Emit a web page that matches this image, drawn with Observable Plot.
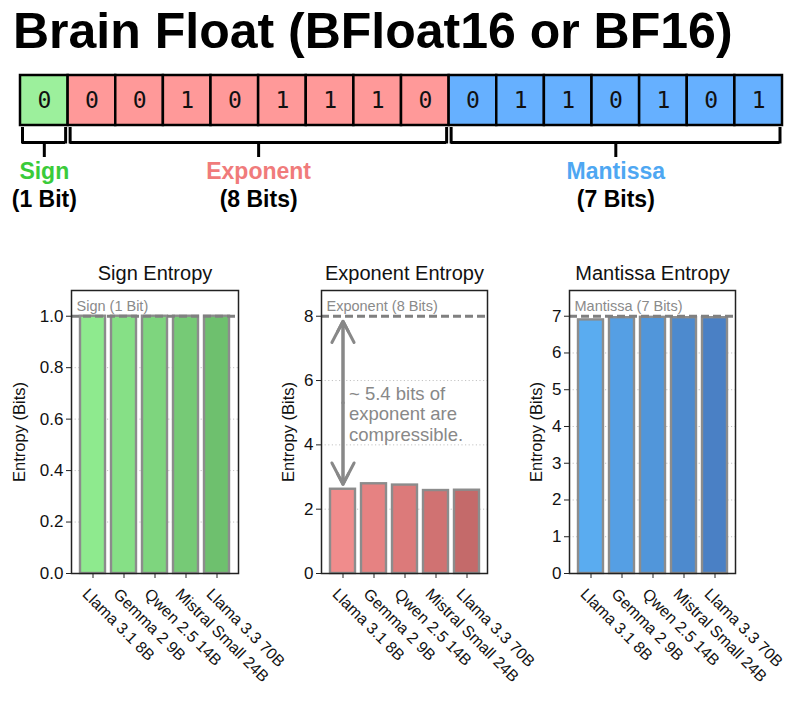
<!DOCTYPE html>
<html><head><meta charset="utf-8">
<script src="https://cdn.jsdelivr.net/npm/d3@7"></script>
<script src="https://cdn.jsdelivr.net/npm/@observablehq/plot@0.6"></script>
<style>
body{margin:0;background:#fff;}
#root{position:relative;width:800px;height:707px;overflow:hidden;font-family:"Liberation Sans",Arial,Helvetica,sans-serif;background:#fff;}
#title{position:absolute;left:13px;top:6px;font-size:50px;font-weight:bold;line-height:50px;white-space:nowrap;color:#000;}
.pane{position:absolute;}
.pane svg{overflow:visible;}
.pane svg [aria-label="y-axis tick label"] text{font-size:17px;}
</style></head><body>
<div id="root"><div id="title"></div></div>
<script>
// ---- data ----
const titleText = "Brain Float (BFloat16 or BF16)";
const signBits = [0];
const exponentBits = [0, 0, 1, 0, 1, 1, 1, 0];
const mantissaBits = [0, 1, 1, 0, 1, 0, 1];
const fieldNames = ["Sign", "Exponent", "Mantissa"];
const fieldBitLabels = ["(1 Bit)", "(8 Bits)", "(7 Bits)"];
const models = ["Llama 3.1 8B", "Gemma 2 9B", "Qwen 2.5 14B", "Mistral Small 24B", "Llama 3.3 70B"];
const signEntropy = [1.0, 1.0, 1.0, 1.0, 1.0];
const exponentEntropy = [2.62, 2.79, 2.75, 2.58, 2.59];
const mantissaEntropy = [6.90, 6.96, 6.97, 6.96, 6.96];
const panelTitles = ["Sign Entropy", "Exponent Entropy", "Mantissa Entropy"];
const refLabels = ["Sign (1 Bit)", "Exponent (8 Bits)", "Mantissa (7 Bits)"];
const yTicks = [[0, 0.2, 0.4, 0.6, 0.8, 1.0], [0, 2, 4, 6, 8], [0, 1, 2, 3, 4, 5, 6, 7]];
const yLabel = "Entropy (Bits)";

// ---- styles ----
const FONT = "Liberation Sans, Arial, Helvetica, sans-serif";
const boxColors = {Sign: "#9cf09c", Exponent: "#ff9999", Mantissa: "#66b0ff"};
const labelColors = {Sign: "#3acb3a", Exponent: "#f07b7b", Mantissa: "#4ea7f2"};
const barColors = [
  ["#8eea8e", "#86e086", "#7ed57e", "#76ca76", "#6ec06e"],
  ["#f08c8c", "#e68282", "#dc7a7a", "#d07272", "#c46a6a"],
  ["#5aacf0", "#559fe4", "#5196da", "#4d8ace", "#4a80c5"]
];

document.getElementById("title").textContent = titleText;
const root = document.getElementById("root");

// ---- bit layout diagram ----
const fieldBits = [signBits, exponentBits, mantissaBits];
const bitRows = [], groups = [];
let pos = 0;
fieldBits.forEach((arr, f) => {
  groups.push({name: fieldNames[f], sub: fieldBitLabels[f], start: pos, end: pos + arr.length});
  arr.forEach(b => bitRows.push({field: fieldNames[f], bit: b, i: pos++}));
});
const nBits = pos;

const diagram = Plot.plot({
  width: 800, height: 160, margin: 0,
  x: {domain: [0, nBits], range: [20, 782], axis: null},
  y: {domain: [0, 160], range: [0, 160], axis: null},
  color: {type: "identity"},
  style: {fontFamily: FONT, background: "transparent", overflow: "visible"},
  marks: [
    Plot.rect(bitRows, {x1: d => d.i, x2: d => d.i + 1, y1: 15, y2: 65, fill: d => boxColors[d.field], stroke: "#000", strokeWidth: 2.5}),
    Plot.text(bitRows, {x: d => d.i + 0.5, y: 40, text: d => String(d.bit), fontFamily: "DejaVu Sans Mono", fontSize: 23, fill: "#111"}),
    Plot.ruleY(groups, {y: 82, x1: "start", x2: "end", insetLeft: 2, insetRight: 2.5, stroke: "#000", strokeWidth: 3}),
    Plot.ruleX(groups, {x: "start", y1: 67, y2: 83.5, dx: 2, stroke: "#000", strokeWidth: 3}),
    Plot.ruleX(groups, {x: "end", y1: 67, y2: 83.5, dx: -2.5, stroke: "#000", strokeWidth: 3}),
    Plot.ruleX(groups, {x: d => (d.start + d.end) / 2, y1: 82, y2: 97, stroke: "#000", strokeWidth: 3}),
    Plot.text(groups, {x: d => (d.start + d.end) / 2, y: 111, text: "name", fill: d => labelColors[d.name], fontWeight: "bold", fontSize: 23}),
    Plot.text(groups, {x: d => (d.start + d.end) / 2, y: 139.5, text: "sub", fill: "#000", fontWeight: "bold", fontSize: 23})
  ]
});
const dDiv = document.createElement("div");
dDiv.className = "pane"; dDiv.style.left = "0px"; dDiv.style.top = "60px";
dDiv.appendChild(diagram);
root.appendChild(dDiv);

// ---- entropy panels ----
const entropies = [signEntropy, exponentEntropy, mantissaEntropy];
const refBits = fieldBits.map(a => a.length);
const panes = [
  {left: 0, width: 267, ml: 71, mr: 29, labelDx: -52, fmt: ".1f"},
  {left: 267, width: 267, ml: 54, mr: 47, labelDx: -33, fmt: "d"},
  {left: 534, width: 266, ml: 35, mr: 65, labelDx: -33, fmt: "d"}
];

panes.forEach((p, idx) => {
  const values = entropies[idx];
  const ref = refBits[idx];
  const rows = models.map((m, i) => ({model: m, value: values[i], color: barColors[idx][i]}));
  const marks = [
    Plot.ruleY(yTicks[idx].filter(t => t > 0 && t < ref), {stroke: "#c4c4c4", strokeWidth: 1, strokeDasharray: "1.2,2.4"}),
    Plot.barY(rows, {x: "model", y: "value", fill: "color", stroke: "#8c8c8c", strokeWidth: 2.4}),
    Plot.ruleY([ref], {stroke: "#808080", strokeWidth: 3, strokeDasharray: "8,4"}),
    Plot.text([refLabels[idx]], {text: d => d, y: () => ref, frameAnchor: "left", textAnchor: "start", lineAnchor: "bottom", dx: 5, dy: -5, fontSize: 14.5, fill: "#8a8a8a"}),
    Plot.text([panelTitles[idx]], {text: d => d, frameAnchor: "top", textAnchor: "middle", lineAnchor: "middle", dy: -17, fontSize: 20, fill: "#111"}),
    Plot.text([yLabel], {text: d => d, frameAnchor: "left", textAnchor: "middle", lineAnchor: "middle", rotate: -90, dx: p.labelDx, fontSize: 16.5, fill: "#111"}),
    Plot.axisY({ticks: yTicks[idx], tickFormat: p.fmt, tickSize: 5, tickPadding: 3, fontSize: 17, label: null, stroke: "#222"}),
    Plot.axisX({tickSize: 5, tickFormat: () => "", label: null, stroke: "#222"}),
    Plot.text(models, {x: d => d, text: d => d, frameAnchor: "bottom", rotate: 45, textAnchor: "start", lineAnchor: "middle", dx: -8, dy: 18, fontSize: 16, fill: "#111"})
  ];
  if (idx === 1) {
    const x0 = models[0], v0 = values[0];
    const mid = (ref + v0) / 2;
    const arrowStyle = {stroke: "#888", strokeWidth: 3, headAngle: 55};
    marks.push(
      Plot.arrow([x0], {x: d => d, y1: () => mid, y2: () => ref, insetEnd: 5, headLength: 12, ...arrowStyle}),
      Plot.arrow([x0], {x: d => d, y1: () => mid, y2: () => ref, insetEnd: 5, headLength: 6, ...arrowStyle}),
      Plot.arrow([x0], {x: d => d, y1: () => mid, y2: () => v0, insetEnd: 5, headLength: 12, ...arrowStyle}),
      Plot.arrow([x0], {x: d => d, y1: () => mid, y2: () => v0, insetEnd: 5, headLength: 6, ...arrowStyle}),
      Plot.text([`~ ${d3.format(".1f")(ref - v0)} bits of\nexponent are\ncompressible.`], {x: () => x0, y: () => mid, text: d => d, textAnchor: "start", dx: 6, dy: 11, fontSize: 18.5, lineHeight: 1.12, fill: "#888"})
    );
  }
  marks.push(Plot.frame({stroke: "#222", strokeWidth: 1.5}));
  const chart = Plot.plot({
    width: p.width, height: 457,
    marginLeft: p.ml, marginRight: p.mr, marginTop: 40, marginBottom: 134,
    x: {domain: models, paddingInner: 0.2, paddingOuter: 0.27},
    y: {domain: [0, ref * 1.1]},
    color: {type: "identity"},
    style: {fontFamily: FONT, fontSize: "17px", color: "#111", background: "transparent", overflow: "visible"},
    marks
  });
  const div = document.createElement("div");
  div.className = "pane"; div.style.left = p.left + "px"; div.style.top = "250px";
  div.appendChild(chart);
  root.appendChild(div);
});
</script>
</body></html>
